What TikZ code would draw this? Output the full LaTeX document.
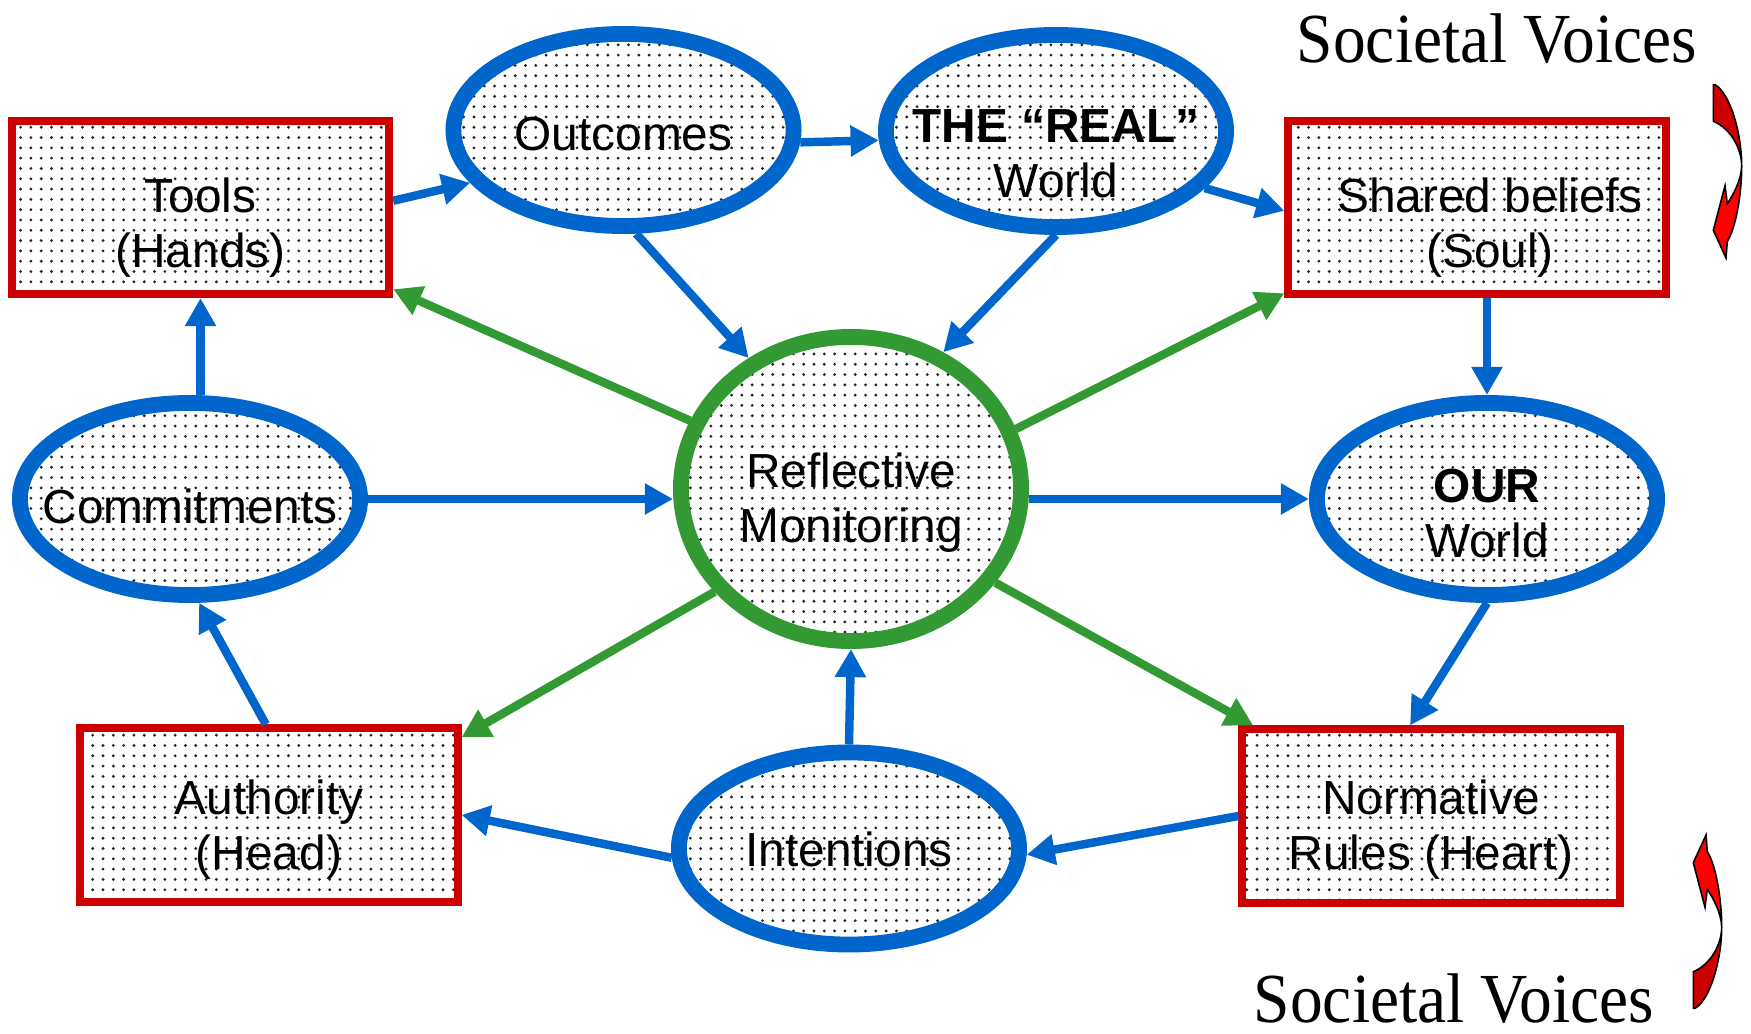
\documentclass[tikz,border=0pt]{standalone}
\usepackage{fontspec}
\setmainfont{Liberation Sans}
\newfontfamily\voicefont[FakeStretch=0.93]{Liberation Serif}
\usetikzlibrary{arrows.meta,patterns.meta,shapes.geometric}

% Colors
\definecolor{boxred}{RGB}{204,0,0}
\definecolor{ringblue}{RGB}{0,102,204}
\definecolor{ringgreen}{RGB}{51,153,51}
\definecolor{voicedark}{RGB}{204,0,0}
\definecolor{voicebright}{RGB}{255,0,0}

% Styles
\tikzset{
    dotted fill/.style={pattern={Dots[distance=2.93pt,radius=0.45pt]},pattern color=black!85},
    part/.style={rectangle,draw=boxred,line width=2.3pt,dotted fill,align=center,
        minimum width=3.77cm,minimum height=1.73cm},
    ring/.style={ellipse,draw=ringblue,line width=4.5pt,dotted fill,align=center,
        inner xsep=-12pt,inner ysep=0pt,minimum width=3.4cm,minimum height=1.92cm},
    lift/.style={text height=#1,text depth=0pt},    % lowers the text inside its shape
    flow/.style={draw=ringblue,line width=2.4pt,-{Triangle[length=8pt,width=8.4pt]}},
    feed/.style={flow,draw=ringgreen},
    voices/.style={font=\voicefont\fontsize{20pt}{24pt}\selectfont,anchor=base,inner sep=0pt},
    voice arrow/.pic={
        \filldraw[fill=voicebright,line width=0.45pt] (56,15) -- (43.3,42.7) -- (55,87.3) -- (57.3,69.3)
            .. controls (63,78) and (71,92) .. (71.7,106.7)
            .. controls (71.7,80) and (66,45) .. (57.3,31.7) -- cycle;
        \filldraw[fill=voicedark,line width=0.45pt] (71.7,106.7)
            .. controls (71.7,125) and (60,145) .. (43.3,151.7)
            -- (43.3,188.3) -- (45,188.3)
            .. controls (60,180) and (71.7,140) .. (71.7,106.7) -- cycle;
    }
}

\begin{document}
\begin{tikzpicture}[x=0.01cm,y=-0.01cm,font=\fontsize{13.6pt}{15.6pt}\selectfont]
    \useasboundingbox (0,0) rectangle (1751,1034);

  % The boxes
    \node[part,lift=33.9pt] (tools) at (200.5,207.5) {Tools\\(Hands)};
    \node[part,lift=33.9pt] (shared) at (1477,207.5) {\hspace{7.4pt}Shared beliefs\\\hspace{7.4pt}(Soul)};
    \node[part,lift=31pt] (authority) at (269,815) {Authority\\(Head)};
    \node[part,lift=30.2pt] (rules) at (1431,816) {Normative\\Rules (Heart)};

  % The rings
    \node[ring,lift=11.4pt] (outcomes) at (623.5,130) {Outcomes};
    \node[ring,lift=37.6pt] (real) at (1056,131) {\textbf{THE “REAL”}\\World};
    \node[ring,lift=13.7pt] (commit) at (190,499) {Commitments};
    \node[ring,lift=33pt] (our) at (1487,499) {\textbf{OUR}\\World};
    \node[ring,lift=10.2pt] (intent) at (849,848.5) {Intentions};
    \node[ring,draw=ringgreen,minimum height=3.04cm,lift=30.2pt] (monitor) at (851,489) {Reflective\\Monitoring};

  % Blue arrows
    \draw[flow] (tools.2.4) -- (outcomes.199);
    \draw[flow] (outcomes.356) -- (real.183.3);
    \draw[flow] (real.339) -- (shared.181);
    \draw[flow] (outcomes.277.6) -- (monitor.128.2);
    \draw[flow] (real.south) -- (monitor.56.7);
    \draw[flow] (our.north |- shared.south) -- (our.north);
    \draw[flow] (our.south) -- (rules.103);
    \draw[flow] (rules.west) -- (intent.358.2);
    \draw[flow] (intent.north) -- (monitor.south);
    \draw[flow] (intent.183) -- (authority.east);
    \draw[flow] (authority.92.5) -- (commit.275.8);
    \draw[flow] (tools.south |- commit.north) -- (tools.south);
    \draw[flow] (commit.east) -- (commit.east -| monitor.west);
    \draw[flow] (monitor.east |- our.west) -- (our.west);

  % Green arrows
    \draw[feed] (monitor.157.4) -- (tools.337.3);
    \draw[feed] (monitor.20.6) -- (shared.204.3);
    \draw[feed] (monitor.217.9) -- (authority.22);
    \draw[feed] (monitor.327) -- (rules.153.6);

  % Societal voices
    \node[voices] (voicetop) at (1497,63) {Societal Voices};
    \node[voices] (voicebottom) at (1454,1022) {Societal Voices};
    \pic[yscale=-1] at (1670,273) {voice arrow};
    \pic at (1650,820) {voice arrow};
\end{tikzpicture}
\end{document}
